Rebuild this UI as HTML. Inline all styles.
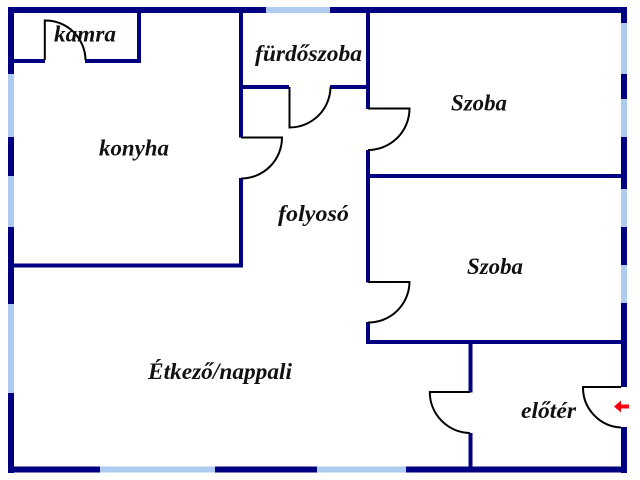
<!DOCTYPE html>
<html><head><meta charset="utf-8"><style>
html,body{margin:0;padding:0;background:#fff}
svg{display:block}
text{font-family:"Liberation Serif",serif;font-weight:bold;font-style:italic;font-size:23px;fill:#111}
</style></head><body>
<svg width="640" height="480" viewBox="0 0 640 480" xmlns="http://www.w3.org/2000/svg">
<rect width="640" height="480" fill="#fff"/>
<g fill="#000080">
<rect x="8" y="7" width="619" height="6"/>
<rect x="8" y="7" width="6" height="466"/>
<rect x="621" y="7" width="6" height="380"/>
<rect x="621" y="427" width="6" height="46"/>
<rect x="8" y="466.500" width="619" height="6"/>
<rect x="14" y="59" width="31" height="4"/>
<rect x="85" y="59" width="55" height="4"/>
<rect x="137" y="13" width="4" height="50"/>
<rect x="239" y="13" width="4" height="124.500"/>
<rect x="239" y="178" width="4" height="89.500"/>
<rect x="14" y="263.500" width="229" height="4"/>
<rect x="243" y="85" width="46" height="4"/>
<rect x="330" y="85" width="37" height="4"/>
<rect x="366" y="13" width="4" height="96"/>
<rect x="366" y="150" width="4" height="132.500"/>
<rect x="366" y="322" width="4" height="22"/>
<rect x="368" y="174" width="253" height="4"/>
<rect x="366" y="340" width="255" height="4"/>
<rect x="468.500" y="344" width="4" height="48.500"/>
<rect x="468.500" y="433" width="4" height="34"/>
</g>
<g fill="#aecbf0">
<rect x="8" y="74" width="6" height="63"/>
<rect x="8" y="176" width="6" height="51"/>
<rect x="8" y="304" width="6" height="89"/>
<rect x="621" y="23" width="6" height="51"/>
<rect x="621" y="99" width="6" height="38"/>
<rect x="621" y="189" width="6" height="38"/>
<rect x="621" y="265" width="6" height="38"/>
<rect x="266" y="7" width="64" height="6"/>
<rect x="100" y="466.500" width="115" height="6"/>
<rect x="317" y="466.500" width="89" height="6"/>
</g>
<g fill="none" stroke="#000" stroke-width="2">
<path d="M44.800 60V20.500A40 40 0 0 1 85.500 60"/>
<path d="M241 137.500H282A41 41 0 0 1 241 178.500"/>
<path d="M289.500 87V127.500A41 41 0 0 0 330.500 87"/>
<path d="M368 108.500H409.500A41.500 41.500 0 0 1 368 150"/>
<path d="M368 282H409.500A41 41 0 0 1 368 322.500"/>
<path d="M470 392H429.800A41 41 0 0 0 470 433"/>
<path d="M621 387H583A40 40 0 0 0 621 427.500"/>
</g>
<path d="M614 406.500L621 400.500V404.500H629V408.500H621V412.500Z" fill="#f5000f"/>
<text x="54" y="41.500" textLength="62" lengthAdjust="spacingAndGlyphs">kamra</text>
<text x="99" y="155.500" textLength="70" lengthAdjust="spacingAndGlyphs">konyha</text>
<text x="255" y="61" textLength="107" lengthAdjust="spacingAndGlyphs">fürdőszoba</text>
<text x="451" y="110.500" textLength="56" lengthAdjust="spacingAndGlyphs">Szoba</text>
<text x="467" y="274" textLength="56" lengthAdjust="spacingAndGlyphs">Szoba</text>
<text x="278" y="221" textLength="71" lengthAdjust="spacingAndGlyphs">folyosó</text>
<text x="148" y="379" textLength="144" lengthAdjust="spacingAndGlyphs">Étkező/nappali</text>
<text x="521" y="418" textLength="55" lengthAdjust="spacingAndGlyphs">előtér</text>
</svg>
</body></html>
